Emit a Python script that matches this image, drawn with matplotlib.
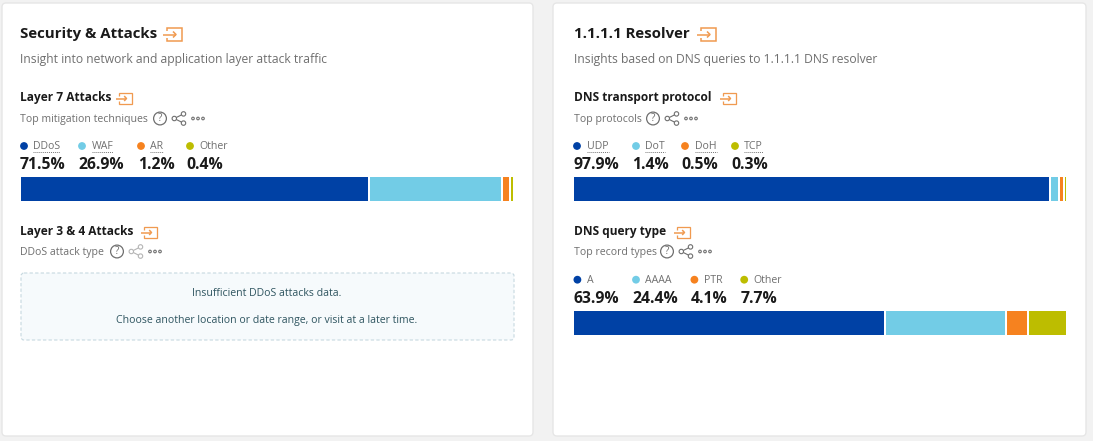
import matplotlib
matplotlib.use("Agg")
import matplotlib.pyplot as plt
from matplotlib.patches import FancyBboxPatch, Circle

plt.rcParams['font.family'] = ['Open Sans', 'DejaVu Sans']

# ---- data ----
l7_labels = ["DDoS", "WAF", "AR", "Other"]
l7_values = [71.5, 26.9, 1.2, 0.4]
transport_labels = ["UDP", "DoT", "DoH", "TCP"]
transport_values = [97.9, 1.4, 0.5, 0.3]
query_labels = ["A", "AAAA", "PTR", "Other"]
query_values = [63.9, 24.4, 4.1, 7.7]
colors = ["#0041A5", "#72CCE6", "#F6821F", "#BDBD00"]

W, H = 1093, 441
fig = plt.figure(figsize=(W / 100, H / 100), dpi=100, facecolor="#F2F2F2")
ax = fig.add_axes([0, 0, 1, 1])
ax.set_xlim(0, W)
ax.set_ylim(H, 0)
ax.axis("off")

DARK = "#1A1A1A"
GREY = "#6F6F6F"
BOX_TEXT = "#2F5560"
GAP = 2.0
FS_TITLE = 10.85
FS_DESC = 8.75
FS_HEAD = 8.6
FS_SUB = 7.55
FS_BOX = 7.6
FS_NUM = 11.3


def card(x0, x1):
    ax.add_patch(FancyBboxPatch((x0, 3), x1 - x0, 433, boxstyle="round,pad=0,rounding_size=4",
                                fc="white", ec="#E6E6E6", lw=1, zorder=0))


def link_icon(x, y, s=1.0):
    c = "#F09A50"
    w = 14 * s
    h = 6.8 * s
    ax.plot([x + 4 * s, x + 4 * s, x + 19 * s, x + 19 * s, x + 4 * s, x + 4 * s],
            [y - 3.5 * s, y - h, y - h, y + h, y + h, y + 3.5 * s],
            color=c, lw=1.0 * s + 0.1, solid_joinstyle="miter", solid_capstyle="butt")
    ax.plot([x, x + w - 1], [y, y], color=c, lw=1.1, solid_capstyle="butt")
    ax.plot([x + w - 4 * s, x + w - 1, x + w - 4 * s], [y - 3 * s, y, y + 3 * s],
            color=c, lw=1.1, solid_capstyle="butt")


def tools(x, y, faded=False):
    c = "#6F6F6F"
    ax.add_patch(Circle((x + 7, y), 6.4, fc="white", ec=c, lw=0.9))
    ax.text(x + 7, y, "?", fontsize=7.2, color=c, ha="center", va="center")
    sc = "#B5B5B5" if faded else c
    sx = x + 19
    pts = [(sx + 2.3, y), (sx + 11.5, y - 4.6), (sx + 11.5, y + 4.6)]
    ax.plot([pts[1][0], pts[0][0], pts[2][0]], [pts[1][1], pts[0][1], pts[2][1]],
            color=sc, lw=0.8, zorder=3)
    for p in pts:
        ax.add_patch(Circle(p, 2.2, fc="white", ec=sc, lw=0.8, zorder=4))
    for dx in (40, 45, 50):
        ax.add_patch(Circle((x + dx, y), 1.3, fc="white", ec="#707070", lw=0.8))


def legend(labels, values, dots, texts, nums, y_dot, y_val, dotted):
    for i, (lab, val) in enumerate(zip(labels, values)):
        ax.add_patch(Circle((dots[i], y_dot), 3.9, fc=colors[i], ec="none"))
        t = ax.text(texts[i], y_dot + 0.5, lab, fontsize=7.6, color=GREY, ha="left", va="center")
        if dotted[i]:
            bb = t.get_window_extent(fig.canvas.get_renderer())
            ax.plot([texts[i], texts[i] + bb.width], [y_dot + 5.5] * 2, color="#777777",
                    lw=0.7, ls=(0, (1, 1)))
        ax.text(nums[i], y_val, f"{val}%", fontsize=FS_NUM, fontweight="bold", color=DARK,
                ha="left", va="center")


def bar(values, x0, x1, y0, y1):
    a = fig.add_axes([x0 / W, 1 - y1 / H, (x1 - x0) / W, (y1 - y0) / H])
    total = sum(values)
    # the segments share the width left over by the fixed gaps between them
    unit = total / ((x1 - x0) - GAP * (len(values) - 1))
    a.set_xlim(0, total + GAP * unit * (len(values) - 1))
    a.set_ylim(0, 1)
    a.axis("off")
    left = 0
    for v, c in zip(values, colors):
        a.barh(0.5, v, height=1, left=left, color=c, edgecolor="none")
        left += v + GAP * unit


card(2, 533)
card(553, 1086)

# left card
ax.text(20, 33.6, "Security & Attacks", fontsize=FS_TITLE, fontweight="bold", color=DARK, va="center")
link_icon(163, 34.5)
ax.text(20, 60, "Insight into network and application layer attack traffic", fontsize=FS_DESC,
        color=GREY, va="center")
ax.text(20, 98, "Layer 7 Attacks", fontsize=FS_HEAD, fontweight="bold", color=DARK, va="center")
link_icon(116, 98.5, 0.82)
ax.text(20, 119.3, "Top mitigation techniques", fontsize=FS_SUB, color=GREY, va="center")
tools(153, 118.5)
legend(l7_labels, l7_values, [24, 82, 141, 190], [33, 91.5, 150, 199.5], [20, 78.5, 138, 186.5],
       146, 165, [True, True, True, False])
bar(l7_values, 20.5, 513, 177, 201)

ax.text(20, 232, "Layer 3 & 4 Attacks", fontsize=FS_HEAD, fontweight="bold", color=DARK, va="center")
link_icon(141, 232.5, 0.82)
ax.text(20, 252.3, "DDoS attack type", fontsize=FS_SUB, color=GREY, va="center")
tools(110, 251.5, faded=True)
ax.add_patch(FancyBboxPatch((21, 273), 493, 67, boxstyle="round,pad=0,rounding_size=3",
                            fc="#F6FAFC", ec="#C6D8E0", lw=0.8, ls=(0, (3, 2))))
ax.text(267, 293, "Insufficient DDoS attacks data.", fontsize=FS_BOX, color=BOX_TEXT,
        ha="center", va="center")
ax.text(267, 320, "Choose another location or date range, or visit at a later time.", fontsize=FS_BOX,
        color=BOX_TEXT, ha="center", va="center")

# right card
ax.text(574, 33.6, "1.1.1.1 Resolver", fontsize=FS_TITLE, fontweight="bold", color=DARK, va="center")
link_icon(697, 34.5)
ax.text(574, 60, "Insights based on DNS queries to 1.1.1.1 DNS resolver", fontsize=FS_DESC,
        color=GREY, va="center")
ax.text(574, 98, "DNS transport protocol", fontsize=FS_HEAD, fontweight="bold", color=DARK, va="center")
link_icon(720, 98.5, 0.82)
ax.text(574, 119.3, "Top protocols", fontsize=FS_SUB, color=GREY, va="center")
tools(646, 118.5)
legend(transport_labels, transport_values, [577, 636, 685, 735], [587, 645, 695, 744],
       [573.5, 632.5, 681, 731], 146, 165, [True, True, True, True])
bar(transport_values, 574, 1066, 177, 201)

ax.text(574, 232, "DNS query type", fontsize=FS_HEAD, fontweight="bold", color=DARK, va="center")
link_icon(674, 232.5, 0.82)
ax.text(574, 252.3, "Top record types", fontsize=FS_SUB, color=GREY, va="center")
tools(660, 251.5)
legend(query_labels, query_values, [577.4, 636, 694.4, 744.2], [586.7, 645.2, 704, 753],
       [573.5, 632.4, 691, 740.8], 279.7, 298.7, [False] * 4)
bar(query_values, 574, 1066, 311, 335)

fig.savefig("out.png", dpi=100, facecolor=fig.get_facecolor())
